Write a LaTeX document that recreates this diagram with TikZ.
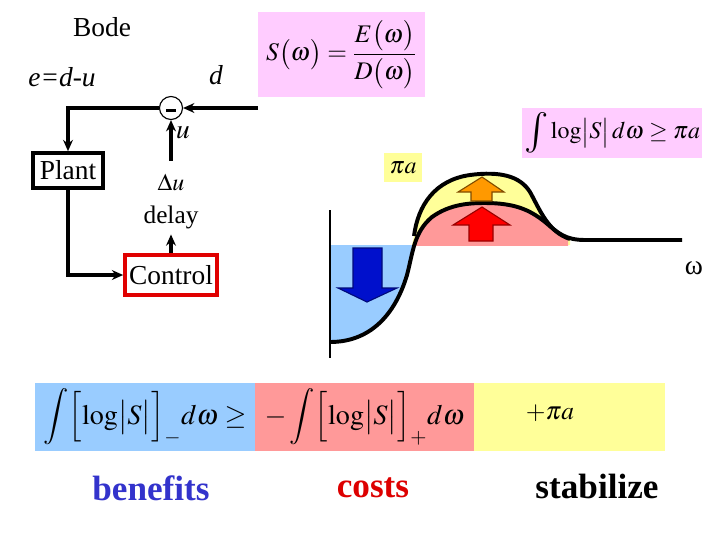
\documentclass[tikz,border=0pt]{standalone}
\usepackage{mathptmx}
\usepackage{fontspec}
\setmainfont{Liberation Serif}
\usetikzlibrary{arrows.meta, positioning}
\definecolor{bodeInk}{HTML}{000000}
\definecolor{bodePink}{HTML}{FFCCFF}
\definecolor{bodeYellow}{HTML}{FFFF99}
\definecolor{bodeBlue}{HTML}{99CCFF}
\definecolor{bodeRed}{HTML}{FF9999}
\definecolor{bodeCtrl}{HTML}{E00000}
\definecolor{bodeNavy}{HTML}{0010CC}
\definecolor{bodeOrange}{HTML}{FF9900}
\definecolor{bodeFire}{HTML}{FF0000}
\definecolor{bodeGain}{HTML}{3333CC}
\definecolor{bodeLoss}{HTML}{DD0000}

\begin{document}
\begin{tikzpicture}[
    x=0.025cm,
    y=-0.025cm,
    >={Stealth[length=8pt, width=7pt]},
    font=\fontsize{19.5}{23}\selectfont,
    block/.style={rectangle, draw=bodeInk, line width=2.6pt, fill=white,
                  inner sep=0pt, minimum width=1.75cm, minimum height=0.875cm},
    ctrlblock/.style={block, draw=bodeCtrl, minimum width=2.3cm, minimum height=1.0cm},
    junction/.style={circle, draw=bodeInk, line width=0.8pt, fill=white,
                     inner sep=0pt, minimum size=0.575cm},
    wire/.style={->, draw=bodeInk, line width=2.4pt},
    lbl/.style={inner sep=0pt, text=bodeInk},
    pinkbox/.style={rectangle, fill=bodePink, inner sep=0pt},
    band/.style={rectangle, inner sep=0pt, minimum height=1.7cm,
                 font=\fontsize{20}{24}\selectfont},
    curve/.style={draw=bodeInk, line width=2.8pt},
    fatarrow/.style={line width=0.8pt, line join=miter},
    tag/.style={inner sep=0pt, font=\fontsize{25}{30}\selectfont\bfseries}
  ]
  \useasboundingbox (0,0) rectangle (720,540);

  % Feedback loop
  \node[lbl] (bode) at (102,27) {Bode};
  \node[lbl] (err)  at (62,77) {\textit{e=d-u}};
  \node[lbl] (dlbl) at (216,75) {\textit{d}};
  \node[junction] (sum) at (171,108) {};
  \node[rectangle, fill=bodeInk, inner sep=0pt, minimum width=0.25cm,
        minimum height=0.08cm] (minus) at (171,110.5) {};
  \node[block] (plant) at (68,170.5) {Plant};
  \node[ctrlblock] (control) at (171,275) {Control};
  \node[lbl, inner sep=4pt, font=\fontsize{18}{21}\selectfont] (delay) at (171,217) {delay};
  \node[lbl, font=\fontsize{17}{20}\selectfont] (du) at (171,182) {$\Delta u$};
  \node[lbl] (ulbl) at (183,133) {$u$};
  \coordinate (dIn) at (258,108);

  \draw[wire] (dIn) -- (sum.east);
  \draw[wire] (sum.west) -| (plant.north);
  \draw[wire] (plant.south) |- (control.west);
  \draw[wire] (control.north) -- (delay.south);
  \draw[wire] ([yshift=9pt]du.north) -- (sum.south);

  % Formula boxes
  \node[pinkbox, minimum width=4.18cm, minimum height=2.13cm,
        font=\fontsize{18}{21}\selectfont] (sdef) at (341.5,54.5)
    {$\displaystyle S\bigl(\omega\bigr)=\frac{E\bigl(\omega\bigr)}{D\bigl(\omega\bigr)}$};
  \node[pinkbox, minimum width=4.5cm, minimum height=1.25cm,
        font=\fontsize{17}{20}\selectfont] (bound) at (612,133)
    {$\mathop{\vcenter{\hbox{\scalebox{1.7}{$\int$}}}}\log\bigl|S\bigr|\,d\omega\ge\pi a$};
  \node[rectangle, fill=bodeYellow, inner sep=0pt, minimum width=0.95cm,
        minimum height=0.73cm, font=\fontsize{17}{20}\selectfont] (pia) at (403,167.5) {$\pi a$};

  % Graph of log|S|
  \begin{scope}
    \clip (330,245) rectangle (420,360);
    \fill[bodeBlue] (330,342) .. controls (370,342) and (395,315) .. (407,275)
      .. controls (413,252) and (414,232) .. (432,217) -- (432,245) -- (330,245) -- cycle;
  \end{scope}
  \fill[bodeYellow] (414,236) .. controls (418,205) and (435,180) .. (470,175)
    .. controls (500,171) and (520,176) .. (530,192)
    .. controls (540,210) and (548,232) .. (570,239) -- (570,245) -- (412,245) -- cycle;
  \begin{scope}
    \clip (400,150) rectangle (568,245);
    \fill[bodeRed] (407,275) .. controls (413,252) and (414,232) .. (432,217)
      .. controls (450,204) and (470,203) .. (485,203)
      .. controls (515,203) and (530,210) .. (545,222)
      .. controls (558,233) and (565,240) .. (585,240) -- (585,260) -- (407,260) -- cycle;
  \end{scope}
  \draw[draw=bodeInk, line width=1.6pt] (330,210) -- (330,358);
  \draw[curve] (330,342) .. controls (370,342) and (395,315) .. (407,275)
    .. controls (413,252) and (414,232) .. (432,217)
    .. controls (450,204) and (470,203) .. (485,203)
    .. controls (515,203) and (530,210) .. (545,222)
    .. controls (558,233) and (565,240) .. (585,240) -- (682,240);
  \draw[curve] (414,236) .. controls (418,205) and (435,180) .. (470,175)
    .. controls (500,171) and (520,176) .. (530,192)
    .. controls (540,210) and (548,232) .. (570,239);
  \node[lbl] (omega) at (694,268) {ω};

  % Big arrows
  \filldraw[fatarrow, fill=bodeNavy, draw=bodeNavy!60!black]
    (353,248) -- (382,248) -- (382,288) -- (397,288) -- (367,302) -- (338,288) -- (353,288) -- cycle;
  \filldraw[fatarrow, fill=bodeFire, draw=bodeFire!60!black]
    (469,241) -- (493,241) -- (493,225) -- (510,225) -- (482,207) -- (453,225) -- (469,225) -- cycle;
  \filldraw[fatarrow, fill=bodeOrange, draw=bodeOrange!50!black]
    (471,201) -- (492,201) -- (492,192) -- (504,192) -- (482,177) -- (458,192) -- (471,192) -- cycle;

  % Benefit / cost balance
  \node[band, fill=bodeBlue, minimum width=5.5cm] (gain) at (145,417)
    {$\displaystyle\int\Bigl[\log\bigl|S\bigr|\Bigr]_{-}d\omega\ge$};
  \node[band, fill=bodeRed, minimum width=5.475cm] (loss) at (364.5,417)
    {$\displaystyle-\int\Bigl[\log\bigl|S\bigr|\Bigr]_{+}d\omega$};
  \node[band, fill=bodeYellow, minimum width=4.775cm] (stab) at (569.5,417) {};
  \node[lbl, font=\fontsize{18}{21}\selectfont] (plus) at (550,413) {$+\pi a$};

  \node[tag, text=bodeGain] (benefits) at (151,488) {benefits};
  \node[tag, text=bodeLoss] (costs) at (373,488) {costs};
  \node[tag] (stabilize) at (597,486) {stabilize};

\end{tikzpicture}
\end{document}
